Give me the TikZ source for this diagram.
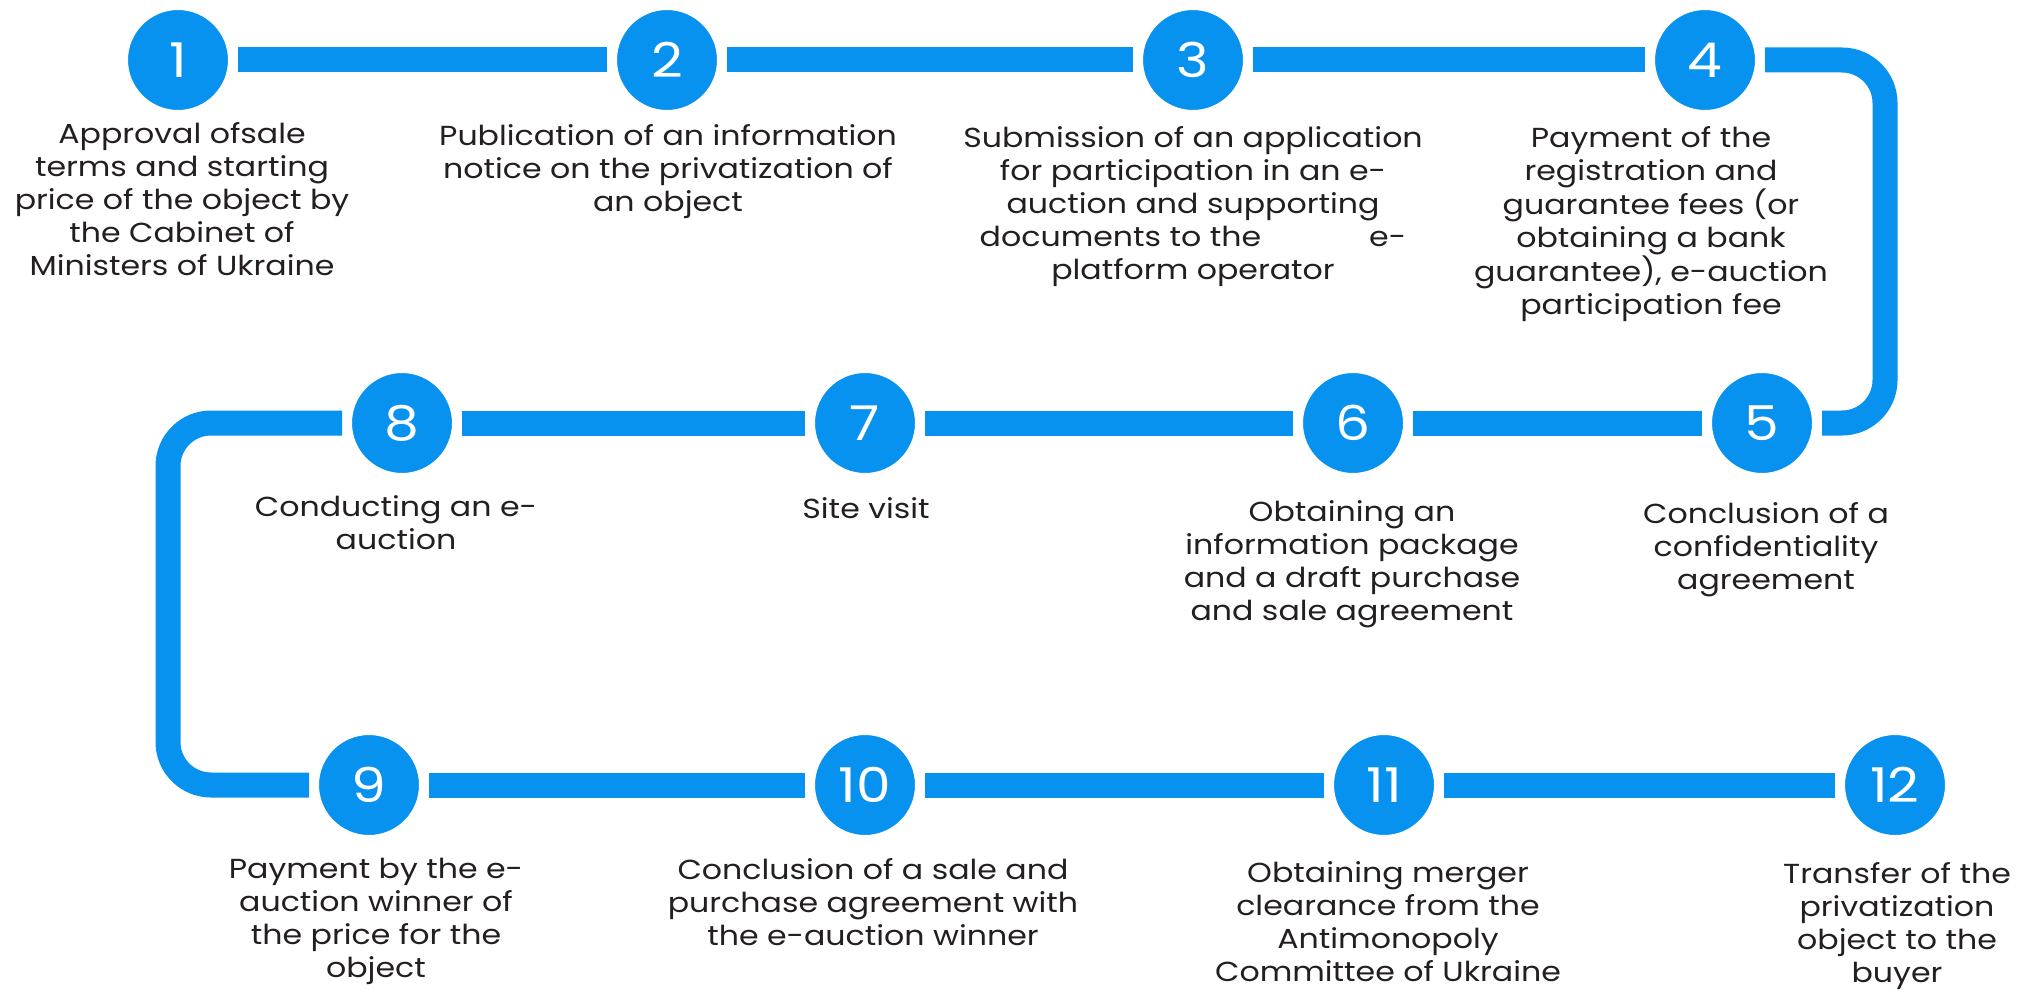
\documentclass[tikz,border=0pt]{standalone}
\usepackage{fontspec}
\setmainfont{Poppins}
\newfontfamily\widefont[FakeStretch=1.15]{Poppins}
\definecolor{stepblue}{RGB}{8,146,240}
\definecolor{txt}{RGB}{35,31,32}
\begin{document}
\begin{tikzpicture}[x=1pt,y=-1pt,
  num/.style={circle,fill=stepblue,draw=white,line width=10pt,minimum size=110pt,inner sep=0pt,
    text=white,font=\widefont\fontsize{48}{48}\selectfont},
  lbl/.style={align=center,inner sep=0pt,anchor=north,text=txt,font=\widefont\fontsize{27.5}{33}\selectfont},
  conn/.style={draw=stepblue,line width=25pt}]
\useasboundingbox (0,0) rectangle (2042,990);
% circles
\node[num] (n1) at (178,60) {1};
\node[num] (n2) at (667,60) {2};
\node[num] (n3) at (1193,60) {3};
\node[num] (n4) at (1705,60) {4};
\node[num] (n5) at (1762,423) {5};
\node[num] (n6) at (1353,423) {6};
\node[num] (n7) at (865,423) {7};
\node[num] (n8) at (402,423) {8};
\node[num] (n9) at (369,785) {9};
\node[num] (n10) at (865,785) {10};
\node[num] (n11) at (1384,785) {11};
\node[num] (n12) at (1895,785) {12};
\coordinate (cr1) at (1885,60);
\coordinate (cr2) at (1885,423);
\coordinate (cl1) at (168,423);
\coordinate (cl2) at (168,785);
% connectors
\draw[conn] (n1) -- (n2);
\draw[conn] (n2) -- (n3);
\draw[conn] (n3) -- (n4);
\draw[conn,rounded corners=43pt] (n4) -- (cr1) -- (cr2) -- (n5);
\draw[conn] (n5) -- (n6);
\draw[conn] (n6) -- (n7);
\draw[conn] (n7) -- (n8);
\draw[conn,rounded corners=43pt] (n8) -- (cl1) -- (cl2) -- (n9);
\draw[conn] (n9) -- (n10);
\draw[conn] (n10) -- (n11);
\draw[conn] (n11) -- (n12);
% labels
\node[lbl] (t1) at (182,122) {Approval ofsale\\terms and starting\\price of the object by\\the Cabinet of\\Ministers of Ukraine};
\node[lbl] (t2) at (668,124) {Publication of an information\\notice on the privatization of\\an object};
\node[lbl] (t3) at (1193,126) {Submission of an application\\for participation in an e-\\auction and supporting\\documents to the\hspace{108pt}e-\\platform operator};
\node[lbl] (t4) at (1651,126) {Payment of the\\registration and\\guarantee fees (or\\obtaining a bank\\guarantee), e-auction\\participation fee};
\node[lbl] (t5) at (1766,502) {Conclusion of a\\confidentiality\\agreement};
\node[lbl] (t6) at (1352,500) {Obtaining an\\information package\\and a draft purchase\\and sale agreement};
\node[lbl] (t7) at (866,497) {Site visit};
\node[lbl] (t8) at (396,495) {Conducting an e-\\auction};
\node[lbl] (t9) at (376,858) {Payment by the e-\\auction winner of\\the price for the\\object};
\node[lbl] (t10) at (873,858) {Conclusion of a sale and\\purchase agreement with\\the e-auction winner};
\node[lbl] (t11) at (1388,861) {Obtaining merger\\clearance from the\\Antimonopoly\\Committee of Ukraine};
\node[lbl] (t12) at (1897,862) {Transfer of the\\privatization\\object to the\\buyer};
\end{tikzpicture}
\end{document}
